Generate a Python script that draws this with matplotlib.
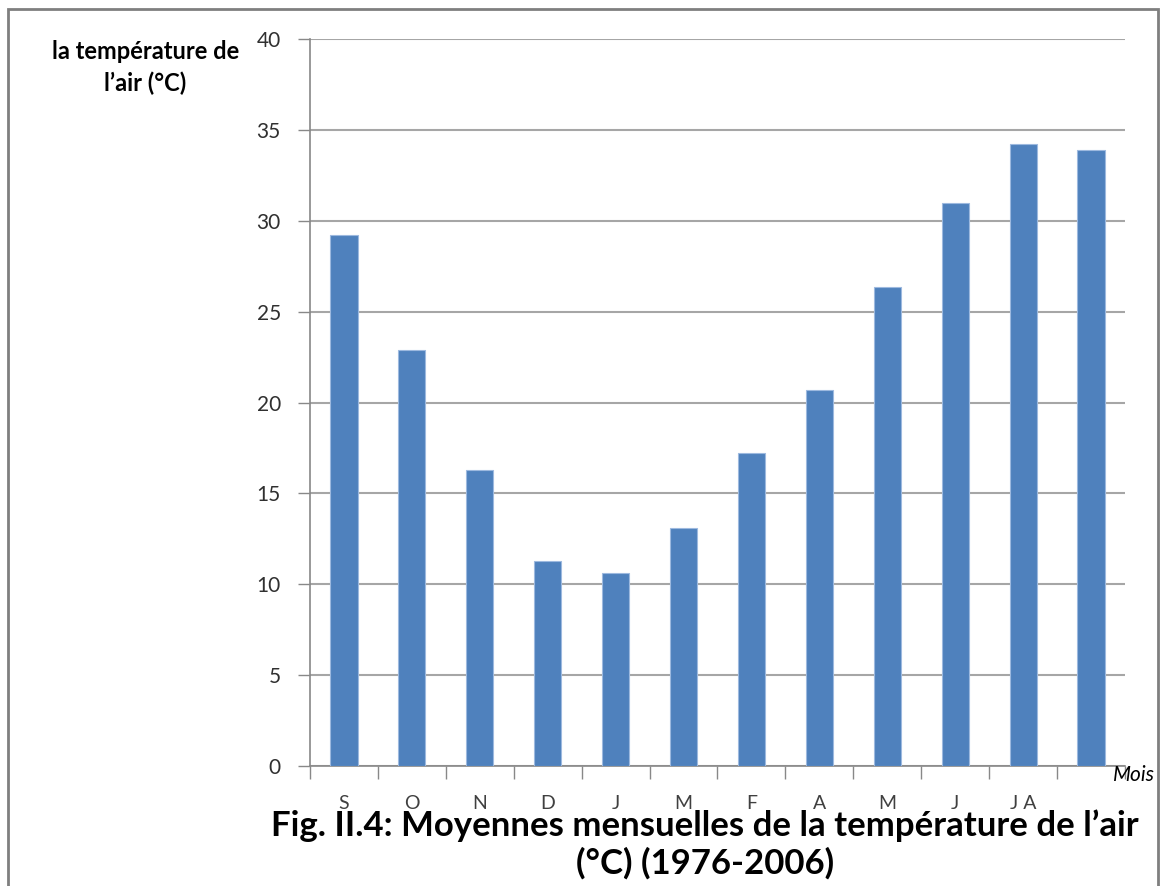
import matplotlib.pyplot as plt
import numpy as np
from matplotlib.patches import Rectangle

# mean monthly air temperature (1976-2006)
mois = ['S', 'O', 'N', 'D', 'J', 'M', 'F', 'A', 'M', 'J', 'J A', '']
temperature = [29.2, 22.9, 16.3, 11.3, 10.6, 13.1, 17.2, 20.7, 26.35, 31.0, 34.2, 33.9]

plt.rcParams['font.family'] = ['Lato', 'DejaVu Sans']

fig = plt.figure(figsize=(11.61, 8.86), dpi=100)
ax = fig.add_axes([0.267, 0.1354, 0.702, 0.8206])

x = np.arange(len(temperature))
ax.bar(x, temperature, width=0.4, color='#4F81BD', edgecolor='#9DB9DF', linewidth=0.8, zorder=3)

ax.set_xlim(-0.5, len(temperature) - 0.5)
ax.set_ylim(0, 40)
ax.set_yticks(range(0, 41, 5))
ax.grid(axis='y', color='#A6A6A6', linewidth=1.5, zorder=0)

# ticks between categories, labels under each bar
ax.set_xticks(np.arange(-0.5, len(temperature), 1))
ax.set_xticklabels([])
ax.set_xticks(x, minor=True)
ax.set_xticklabels(mois, minor=True, fontsize=14, color='#404040')
ax.tick_params(axis='x', which='minor', length=0, pad=21)
ax.tick_params(axis='x', which='major', length=9, color='#888888', width=1)
ax.tick_params(axis='y', length=9, color='#888888', width=1, labelsize=15, pad=12,
               labelcolor='#303030')

for s in ['top', 'right']:
    ax.spines[s].set_visible(False)
ax.spines['left'].set_color('#888888')
ax.spines['bottom'].set_color('#888888')
ax.spines['left'].set_linewidth(1.2)
ax.spines['bottom'].set_linewidth(1.2)

fig.text(0.125, 0.924, "la température de\nl\u2019air (°C)", ha='center', va='center',
         fontsize=17, fontweight='bold', linespacing=1.45)
fig.text(0.995, 0.125, 'Mois', ha='right', va='center', fontsize=15, style='italic')
fig.text(0.607, 0.047, "Fig. II.4: Moyennes mensuelles de la température de l\u2019air\n(°C) (1976-2006)",
         ha='center', va='center', fontsize=25, fontweight='bold', linespacing=1.2)

# outer frame of the picture
fig.patches.append(Rectangle((0.007, -0.01), 0.99, 1.0, transform=fig.transFigure,
                             fill=False, edgecolor='#7F7F7F', linewidth=2))

fig.savefig('out.png', dpi=100)
